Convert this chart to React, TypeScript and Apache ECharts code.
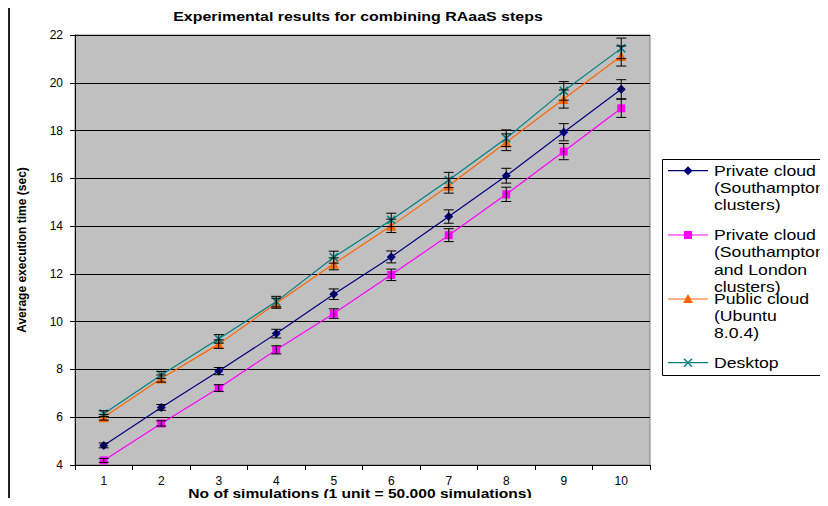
import React, { useEffect, useRef } from "react";
import * as echarts from "echarts";

const categories = ["1", "2", "3", "4", "5", "6", "7", "8", "9", "10"];

const seriesNames = [
  "Private cloud (Southampton clusters)",
  "Private cloud (Southampton and London clusters)",
  "Public cloud (Ubuntu 8.0.4)",
  "Desktop",
];

const privateSoton = [4.82, 6.41, 7.93, 9.5, 11.15, 12.71, 14.4, 16.11, 17.93, 19.73];
const privateSotonLondon = [4.19, 5.74, 7.22, 8.82, 10.34, 11.96, 13.62, 15.33, 17.12, 18.93];
const publicCloud = [6.0, 7.62, 9.06, 10.77, 12.42, 14.01, 15.69, 17.51, 19.32, 21.12];
const desktop = [6.15, 7.77, 9.28, 10.84, 12.7, 14.26, 15.93, 17.68, 19.66, 21.44];

const errPrivateSoton = [0.1, 0.12, 0.15, 0.18, 0.22, 0.25, 0.28, 0.31, 0.36, 0.4];
const errPrivateSotonLondon = [0.08, 0.11, 0.14, 0.17, 0.2, 0.24, 0.27, 0.3, 0.34, 0.38];
const errPublicCloud = [0.12, 0.15, 0.18, 0.21, 0.25, 0.28, 0.31, 0.35, 0.38, 0.42];
const errDesktop = [0.12, 0.15, 0.18, 0.22, 0.25, 0.28, 0.32, 0.35, 0.39, 0.43];

const yTicks = { min: 4, max: 22, interval: 2 };

const titleText = "Experimental results for combining RAaaS steps";
const xName = "No of simulations (1 unit = 50,000 simulations)";
const yName = "Average execution time (sec)";

const legendLines = [
  ["Private cloud", "(Southampton", "clusters)"],
  ["Private cloud", "(Southampton", "and London", "clusters)"],
  ["Public cloud", "(Ubuntu", "8.0.4)"],
  ["Desktop"],
];

const colors = ["#000080", "#ff00ff", "#ff6600", "#008080"];
const XPATH = "path://M0,0L10,10M10,0L0,10";
const symbols = ["diamond", "rect", "triangle", XPATH];
const symbolSizes = [9, 8, 10, 8];

const FONT = "'Liberation Sans', Arial, sans-serif";

export default function App() {
  const ref = useRef<HTMLDivElement>(null);

  useEffect(() => {
    if (!ref.current) return;
    const chart = echarts.init(ref.current, null, { renderer: "svg" });

    const values = [privateSoton, privateSotonLondon, publicCloud, desktop];
    const errs = [errPrivateSoton, errPrivateSotonLondon, errPublicCloud, errDesktop];

    const lineSeries = values.map((vals, k) => ({
      name: seriesNames[k],
      type: "line",
      data: vals,
      symbol: symbols[k],
      symbolSize: symbolSizes[k],
      showSymbol: true,
      z: 3,
      lineStyle: { color: colors[k], width: 1.2 },
      itemStyle: {
        color: colors[k],
        borderColor: colors[k],
        borderWidth: k === 3 ? 1.5 : 0,
      },
    }));

    const errSeries = values.map((vals, k) => ({
      name: seriesNames[k] + " error",
      type: "custom",
      z: 4,
      encode: { x: 0, y: [1, 2] },
      data: vals.map((v, i) => [i, v - errs[k][i], v + errs[k][i]]),
      renderItem: (params: any, api: any) => {
        const i = api.value(0);
        const lo = api.coord([i, api.value(1)]);
        const hi = api.coord([i, api.value(2)]);
        const w = 5;
        const st = { stroke: "#000", lineWidth: 1 };
        return {
          type: "group",
          children: [
            { type: "line", shape: { x1: lo[0], y1: lo[1], x2: hi[0], y2: hi[1] }, style: st },
            { type: "line", shape: { x1: lo[0] - w, y1: lo[1], x2: lo[0] + w, y2: lo[1] }, style: st },
            { type: "line", shape: { x1: hi[0] - w, y1: hi[1], x2: hi[0] + w, y2: hi[1] }, style: st },
          ],
        };
      },
    }));

    const legendY = [
      [170.7, 188.5, 205.5],
      [235, 252.5, 269.8, 286.8],
      [299, 316.5, 333.5],
      [362.7],
    ];

    const legendGraphics: any[] = [
      {
        type: "rect",
        shape: { x: 662.5, y: 159.5, width: 200, height: 216 },
        style: { fill: "#fff", stroke: "#000", lineWidth: 1 },
        z: 10,
      },
    ];
    legendLines.forEach((lines, k) => {
      const ly = legendY[k][0];
      legendGraphics.push({
        type: "line",
        shape: { x1: 668, y1: ly, x2: 708, y2: ly },
        style: { stroke: colors[k], lineWidth: 1.2 },
        z: 11,
      });
      if (k === 0) {
        legendGraphics.push({
          type: "polygon",
          shape: { points: [[688, ly - 4.5], [692.5, ly], [688, ly + 4.5], [683.5, ly]] },
          style: { fill: colors[k] },
          z: 12,
        });
      } else if (k === 1) {
        legendGraphics.push({
          type: "rect",
          shape: { x: 684, y: ly - 4, width: 8, height: 8 },
          style: { fill: colors[k] },
          z: 12,
        });
      } else if (k === 2) {
        legendGraphics.push({
          type: "polygon",
          shape: { points: [[688, ly - 5], [693, ly + 4], [683, ly + 4]] },
          style: { fill: colors[k] },
          z: 12,
        });
      } else {
        legendGraphics.push({
          type: "line",
          shape: { x1: 684, y1: ly - 4, x2: 692, y2: ly + 4 },
          style: { stroke: colors[k], lineWidth: 1.5 },
          z: 12,
        });
        legendGraphics.push({
          type: "line",
          shape: { x1: 692, y1: ly - 4, x2: 684, y2: ly + 4 },
          style: { stroke: colors[k], lineWidth: 1.5 },
          z: 12,
        });
      }
      lines.forEach((t, j) => {
        legendGraphics.push({
          type: "text",
          x: 714,
          y: legendY[k][j],
          scaleX: 1.26,
          z: 12,
          style: {
            text: t,
            fill: "#000",
            font: `14px ${FONT}`,
            textAlign: "left",
            textVerticalAlign: "middle",
          },
        });
      });
    });

    chart.setOption({
      animation: false,
      backgroundColor: "#fff",
      grid: {
        left: 75,
        right: 178,
        top: 35,
        bottom: 41,
        show: true,
        backgroundColor: "#c0c0c0",
        borderColor: "#808080",
        borderWidth: 1,
      },
      xAxis: {
        type: "category",
        data: categories,
        boundaryGap: true,
        axisLine: { lineStyle: { color: "#000", width: 1 } },
        axisTick: { show: true, length: 5, lineStyle: { color: "#000" } },
        axisLabel: { color: "#000", fontSize: 12, fontFamily: FONT, margin: 10 },
        splitLine: { show: false },
      },
      yAxis: {
        type: "value",
        min: yTicks.min,
        max: yTicks.max,
        interval: yTicks.interval,
        axisLine: { show: true, lineStyle: { color: "#000", width: 1 } },
        axisTick: { show: true, length: 5, lineStyle: { color: "#000" } },
        axisLabel: { color: "#000", fontSize: 12, fontFamily: FONT, margin: 12 },
        splitLine: { show: true, lineStyle: { color: "#000", width: 1 } },
        name: yName,
        nameLocation: "middle",
        nameGap: 47,
        nameRotate: 90,
        nameTextStyle: { color: "#000", fontSize: 12, fontWeight: "bold", fontFamily: FONT },
      },
      series: [...lineSeries, ...errSeries],
      graphic: [
        {
          type: "line",
          shape: { x1: 9, y1: 6, x2: 828, y2: 6 },
          style: { stroke: "#222", lineWidth: 2 },
        },
        {
          type: "line",
          shape: { x1: 9, y1: 6, x2: 9, y2: 506 },
          style: { stroke: "#222", lineWidth: 2 },
        },
        {
          type: "text",
          x: 358,
          y: 17,
          scaleX: 1.33,
          style: {
            text: titleText,
            fill: "#000",
            font: `bold 12px ${FONT}`,
            textAlign: "center",
            textVerticalAlign: "middle",
          },
        },
        {
          type: "text",
          x: 360,
          y: 494,
          scaleX: 1.3,
          style: {
            text: xName,
            fill: "#000",
            font: `bold 12px ${FONT}`,
            textAlign: "center",
            textVerticalAlign: "middle",
          },
        },
        ...legendGraphics,
      ],
    });

    return () => chart.dispose();
  }, []);

  return <div ref={ref} style={{ width: 828, height: 506, margin: -8 }} />;
}
